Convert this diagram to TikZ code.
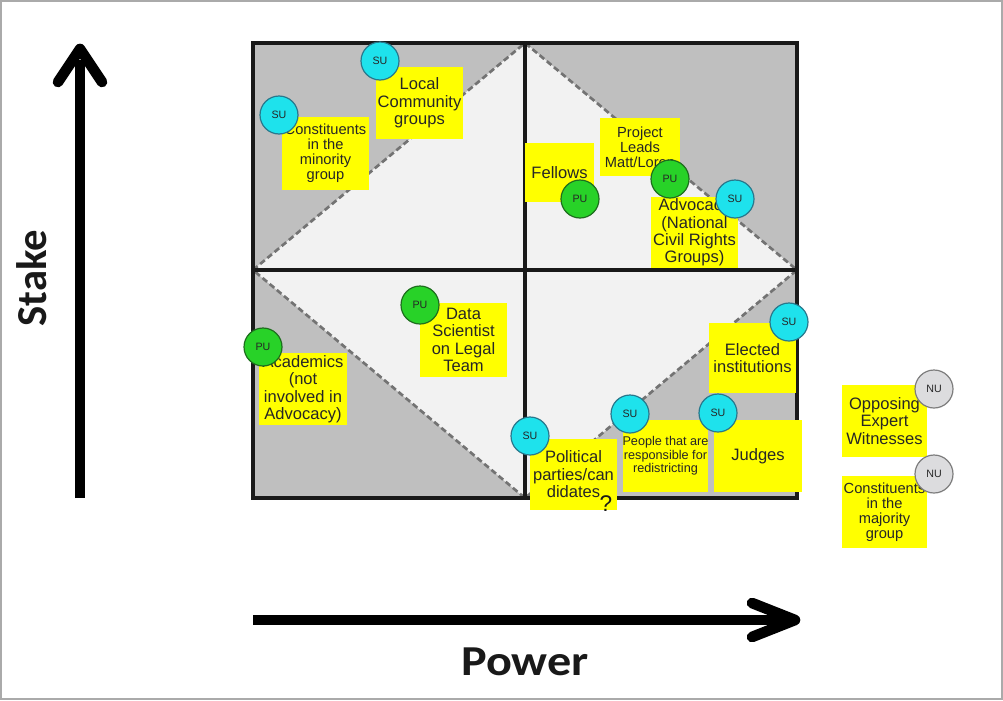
\documentclass[tikz,border=0pt]{standalone}
\usepackage{fontspec}
\setmainfont{Liberation Sans}
\newfontfamily\axisfont{Carlito}
\definecolor{notey}{RGB}{255,255,0}
\definecolor{cyanfill}{RGB}{30,226,236}
\definecolor{cyanborder}{RGB}{40,120,140}
\definecolor{greenfill}{RGB}{40,210,40}
\definecolor{greenborder}{RGB}{30,110,30}
\definecolor{grayfill}{RGB}{220,220,222}
\definecolor{grayborder}{RGB}{125,125,125}
\definecolor{quaddark}{RGB}{191,191,191}
\definecolor{quadlight}{RGB}{242,242,242}
\definecolor{dashcol}{RGB}{115,115,115}
\definecolor{framecol}{RGB}{170,170,170}
\begin{document}
\begin{tikzpicture}[x=0.75pt,y=-0.75pt,
  note/.style 2 args={fill=notey, inner sep=0pt, align=center, text=black!85,
    font=\fontsize{12.4}{13.1}\selectfont,
    minimum width=#1*0.75pt, minimum height=#2*0.75pt},
  small/.style={font=\fontsize{11}{11.25}\selectfont},
  tiny/.style={font=\fontsize{9.5}{10}\selectfont},
  badge/.style={circle, minimum size=28.5pt, inner sep=0pt, line width=0.9pt,
    font=\fontsize{8}{8}\selectfont, text=black!85},
  su/.style={badge, draw=cyanborder, fill=cyanfill},
  pu/.style={badge, draw=greenborder, fill=greenfill},
  nu/.style={badge, draw=grayborder, fill=grayfill},
  gridline/.style={line width=3pt, black!90},
  diag/.style={line width=2pt, dashcol, dash pattern=on 4.5pt off 2.5pt},
  axis/.style={line width=8pt, black},
  axislabel/.style={font=\axisfont\bfseries\fontsize{32}{32}\selectfont, text=black!90}
]
\useasboundingbox (0,0) rectangle (1003,700);
\draw[framecol, line width=1.2pt] (0.8,0.8) rectangle (1002,699);

% quadrant grid
\coordinate (TL) at (253,43);
\coordinate (BR) at (797,498);
\coordinate (T) at (525,43);
\coordinate (B) at (525,498);
\coordinate (L) at (253,270);
\coordinate (R) at (797,270);
\fill[quaddark] (TL) rectangle (BR);
\fill[quadlight] (L) -- (T) -- (R) -- (B) -- cycle;
\draw[diag] (L) -- (T) -- (R) -- (B) -- cycle;
\draw[gridline] (TL) rectangle (BR);
\draw[gridline] (T) -- (B);
\draw[gridline] (L) -- (R);

% axes
\coordinate (vbot) at (80,498);
\coordinate (vstem) at (80,60);
\coordinate (vtop) at (80,49);
\coordinate (vwl) at (58,82);
\coordinate (vwr) at (102,82);
\draw[axis, line cap=butt] (vbot) -- (vstem);
\draw[axis, line cap=round, line join=round] (vwl) -- (vtop) -- (vwr);
\coordinate (hleft) at (253,620);
\coordinate (hstem) at (785,620);
\coordinate (htip) at (795,620);
\coordinate (hwt) at (752,603);
\coordinate (hwb) at (752,637);
\draw[axis, line cap=butt] (hleft) -- (hstem);
\draw[axis, line cap=round, line join=round] (hwt) -- (htip) -- (hwb);
\node[axislabel, rotate=90] (stake) at (32,278) {Stake};
\node[axislabel] (power) at (525,662) {\scalebox{1.13}[1]{Power}};

% sticky notes
\node[note={87}{72}] (local) at (419.5,103) {Local\\Community\\groups};
\node[note={87}{73}, small] (minority) at (325.5,153.5) {Constituents\\in the\\minority\\group};
\node[note={69}{59}] (fellows) at (559.5,172.5) {Fellows};
\node[note={80}{58}, small] (leads) at (640,147) {Project\\Leads\\Matt/Loren};
\node[note={87}{71}] (advocacy) at (694.5,232.5) {Advocacy\\(National\\Civil Rights\\Groups)};
\node[note={87}{74}] (data) at (463.5,340) {Data\\Scientist\\on Legal\\Team};
\node[note={88}{72}] (academics) at (303,389) {Academics\\(not\\involved in\\Advocacy)};
\node[note={87}{70}] (elected) at (752.5,358) {Elected\\institutions};
\node[note={87}{71}] (political) at (573.5,474.5) {Political\\parties/can\\didates};
\node[note={85}{72}, tiny] (people) at (665.5,456) {People that are\\responsible for\\redistricting};
\node[note={88}{72}] (judges) at (758,456) {Judges};
\node[note={85}{72}] (opposing) at (884.5,421) {Opposing\\Expert\\Witnesses};
\node[note={85}{72}, small] (majority) at (884.5,512) {Constituents\\in the\\majority\\group};
\node[font=\fontsize{17}{17}\selectfont, text=black!90, inner sep=0pt] (qmark) at (606,504) {?};

% badges
\node[su] (su1) at (380,61) {SU};
\node[su] (su2) at (279,115) {SU};
\node[pu] (pu1) at (580,199) {PU};
\node[pu] (pu2) at (670,179) {PU};
\node[su] (su3) at (735,199) {SU};
\node[pu] (pu3) at (420,305) {PU};
\node[pu] (pu4) at (263,347) {PU};
\node[su] (su4) at (789,322) {SU};
\node[su] (su5) at (530,436) {SU};
\node[su] (su6) at (630,414) {SU};
\node[su] (su7) at (718,413) {SU};
\node[nu] (nu1) at (934,389) {NU};
\node[nu] (nu2) at (934,474) {NU};
\end{tikzpicture}
\end{document}
